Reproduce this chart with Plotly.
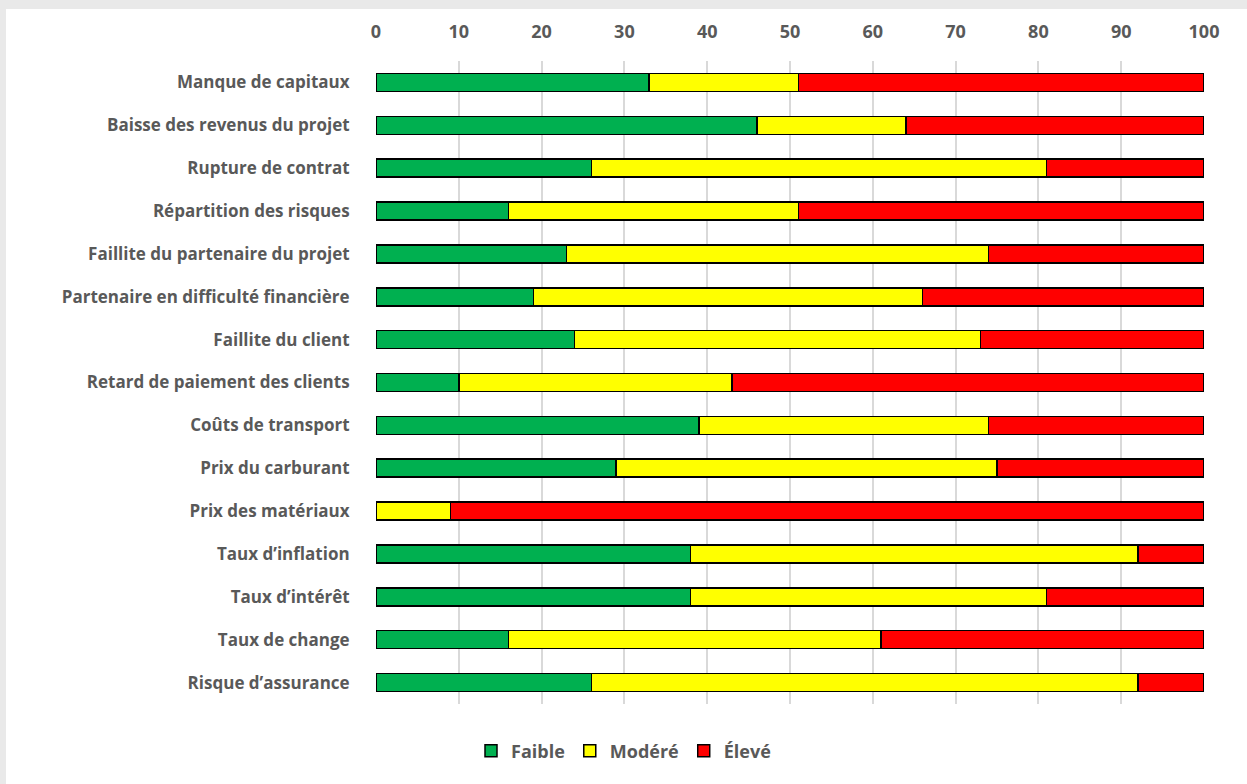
import plotly.graph_objects as go

categories = [
    "Manque de capitaux",
    "Baisse des revenus du projet",
    "Rupture de contrat",
    "Répartition des risques",
    "Faillite du partenaire du projet",
    "Partenaire en difficulté financière",
    "Faillite du client",
    "Retard de paiement des clients",
    "Coûts de transport",
    "Prix du carburant",
    "Prix des matériaux",
    "Taux d’inflation",
    "Taux d’intérêt",
    "Taux de change",
    "Risque d’assurance",
]
faible = [33, 46, 26, 16, 23, 19, 24, 10, 39, 29, 0, 38, 38, 16, 26]
modere = [18, 18, 55, 35, 51, 47, 49, 33, 35, 46, 9, 54, 43, 45, 66]
eleve = [49, 36, 19, 49, 26, 34, 27, 57, 26, 25, 91, 8, 19, 39, 8]

series = [("Faible", faible, "#00B050"), ("Modéré", modere, "#FFFF00"), ("Élevé", eleve, "#FF0000")]

W, H = 1247, 784
ML, MR, MT, MB = 376, 43, 61, 80
PW, PH = W - ML - MR, H - MT - MB

fig = go.Figure()
for name, vals, col in series:
    fig.add_trace(go.Bar(
        y=categories, x=vals, name=name, orientation="h",
        marker=dict(color=col, line=dict(color="#000000", width=1.5)),
    ))

font_main = dict(family="Open Sans", size=17, color="#595959", weight="bold")

def px_to_paper_x(px):
    return (px - ML) / PW

def py_to_paper_y(py):
    return (H - MB - py) / PH

# chart frame shadow: grey paper with white inner area
fig.add_shape(type="rect", xref="paper", yref="paper",
              x0=px_to_paper_x(6), x1=px_to_paper_x(W + 5),
              y0=py_to_paper_y(H + 5), y1=py_to_paper_y(9),
              fillcolor="white", line=dict(width=0), layer="below")

fig.update_layout(
    width=W, height=H,
    barmode="stack", bargap=0.58,
    paper_bgcolor="#e9e9e9", plot_bgcolor="rgba(0,0,0,0)",
    margin=dict(l=ML, r=MR, t=MT, b=MB, autoexpand=False),
    xaxis=dict(
        side="top", range=[0, 100], dtick=10, tick0=0,
        showgrid=True, gridcolor="#d9d9d9", gridwidth=1.5,
        zeroline=False, showline=False,
        ticks="outside", ticklen=15, tickcolor="rgba(0,0,0,0)",
        tickfont=dict(family="Open Sans", size=18, color="#595959", weight="bold"),
    ),
    yaxis=dict(
        autorange="reversed", showgrid=False, zeroline=False, showline=False,
        ticks="outside", ticklen=22, tickcolor="rgba(0,0,0,0)",
        tickfont=font_main,
    ),
    legend=dict(
        orientation="h", xref="container", yref="container",
        x=0.5, xanchor="center", y=1 - 751 / H, yanchor="middle",
        font=dict(family="Open Sans", size=18, color="#595959", weight="bold"),
        bgcolor="rgba(0,0,0,0)", itemwidth=30, traceorder="normal",
    ),
    showlegend=True,
)

fig.write_html("out.html")
